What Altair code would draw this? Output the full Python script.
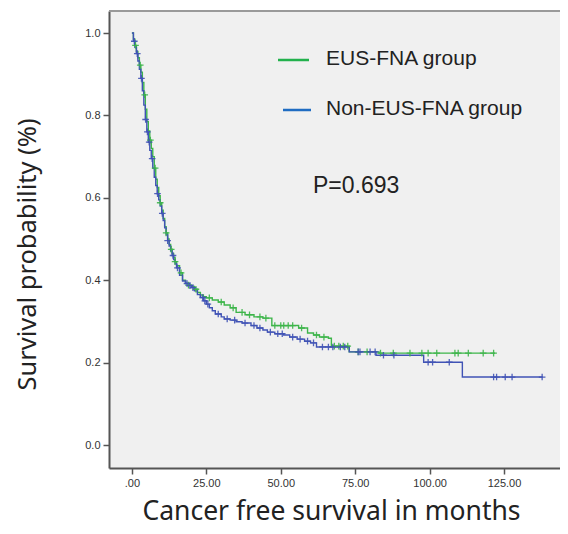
import altair as alt
import pandas as pd
import numpy as np

# ---- Kaplan-Meier step data ----
groups = ["EUS-FNA group", "Non-EUS-FNA group"]

eus_t = [0, 0.5, 1, 1.5, 2, 2.5, 3, 3.5, 4, 4.5,
         5, 5.5, 6, 6.5, 7, 7.5, 8, 8.5, 9, 9.5,
         10, 10.5, 11, 11.5, 12, 12.5, 13, 13.5, 14, 14.5,
         15, 16, 17, 18, 19, 20, 21, 22, 23, 24,
         25, 27, 29, 31, 33, 35, 38, 41, 44, 47,
         56, 59, 61, 63, 66, 67, 73, 83, 122]
eus_s = [1.0, 0.985, 0.97, 0.955, 0.94, 0.922, 0.905, 0.88, 0.85, 0.815,
         0.785, 0.762, 0.74, 0.72, 0.70, 0.672, 0.645, 0.625, 0.605, 0.588,
         0.57, 0.55, 0.53, 0.515, 0.50, 0.487, 0.475, 0.465, 0.455, 0.445,
         0.435, 0.418, 0.40, 0.393, 0.388, 0.385, 0.378, 0.37, 0.364, 0.36,
         0.357, 0.352, 0.347, 0.340, 0.333, 0.322, 0.316, 0.311, 0.308, 0.290,
         0.284, 0.272, 0.267, 0.262, 0.259, 0.240, 0.226, 0.223, 0.223]

non_t = [0, 0.5, 1, 1.5, 2, 2.5, 3, 3.5, 4, 4.5,
         5, 5.5, 6, 6.5, 7, 7.5, 8, 8.5, 9, 9.5,
         10, 10.5, 11, 11.5, 12, 12.5, 13, 13.5, 14, 14.5,
         15, 16, 17, 18, 19, 20, 21, 22, 23, 24,
         25, 26, 27, 28, 30, 31, 33, 35, 37, 40,
         42, 44, 45.5, 48, 51, 53, 55.5, 58, 60, 62,
         73, 82, 98, 111, 138]
non_s = [1.0, 0.98, 0.965, 0.95, 0.932, 0.912, 0.89, 0.86, 0.825, 0.79,
         0.76, 0.735, 0.715, 0.695, 0.672, 0.65, 0.63, 0.61, 0.595, 0.58,
         0.562, 0.545, 0.527, 0.51, 0.496, 0.483, 0.471, 0.46, 0.45, 0.44,
         0.43, 0.412, 0.398, 0.392, 0.387, 0.382, 0.374, 0.365, 0.358, 0.35,
         0.342, 0.333, 0.326, 0.318, 0.311, 0.306, 0.303, 0.299, 0.296, 0.290,
         0.284, 0.279, 0.274, 0.270, 0.267, 0.262, 0.257, 0.252, 0.248, 0.238,
         0.226, 0.218, 0.201, 0.165, 0.165]

eus_censor = [1.2, 2.8, 4.3, 6.2, 7.8, 9.5, 11.5, 13.2, 14.5, 16.5,
              19, 21.5, 26, 30, 34, 37, 39.5, 43, 45, 48,
              50, 51, 52.5, 54, 57, 62, 64.5, 68, 69.5, 71,
              72.5, 76, 79, 83.5, 87.8, 93.4, 97.4, 99.5, 102.4, 108.5,
              109.6, 113, 118, 121.5]
non_censor = [0.8, 1.8, 3.2, 4.6, 5.2, 5.8, 6.8, 8.6, 10.2, 12,
              13.8, 15.3, 18.5, 19.5, 20.5, 23.8, 24.5, 25.5, 29, 32,
              34.5, 38, 41, 43, 46.5, 49, 50.5, 54, 56.5, 59,
              61, 64, 66, 67.5, 70, 71.5, 76, 76.6, 80, 81.7,
              84.5, 88, 99.5, 101, 106.6, 121.5, 122.5, 125.4, 127.7, 137.8]

x_ticks = [0, 25, 50, 75, 100, 125]
y_ticks = [0.0, 0.2, 0.4, 0.6, 0.8, 1.0]
p_label = ["P=0.693"]

line_colors = ["#3db54a", "#4053b5"]
legend_colors = ["#22b14c", "#1f6cc2"]


def curve(times, surv, g):
    return pd.DataFrame({"t": times, "s": surv, "group": g})


def censor(ct, times, surv, g):
    times = np.asarray(times)
    surv = np.asarray(surv)
    idx = np.searchsorted(times, ct, side="right") - 1
    return pd.DataFrame({"t": ct, "s": surv[idx], "group": g})


curves = pd.concat([curve(eus_t, eus_s, groups[0]), curve(non_t, non_s, groups[1])])
cens = pd.concat([censor(eus_censor, eus_t, eus_s, groups[0]),
                  censor(non_censor, non_t, non_s, groups[1])])

W, H = 451, 457
xs = alt.Scale(domain=[-7.7, 143.8], nice=False, zero=False)
ys = alt.Scale(domain=[-0.0558, 1.0534], nice=False, zero=False)
cs = alt.Scale(domain=groups, range=line_colors)

xaxis = alt.Axis(
    values=x_ticks, grid=False,
    labelExpr="datum.value == 0 ? '.00' : format(datum.value, '.2f')",
    labelFont="Liberation Sans", labelFontSize=11, labelColor="#333",
    labelPadding=3, tickSize=6, tickColor="#555", tickWidth=1.5,
    domainColor="#555", domainWidth=2,
    title="Cancer free survival in months", titleFont="Noto Sans",
    titleFontSize=26.5, titleFontWeight="normal", titleColor="#222",
    titleBaseline="alphabetic", titleY=51, titleX=222,
)
yaxis = alt.Axis(
    values=y_ticks, grid=False, format=".1f",
    labelFont="Liberation Sans", labelFontSize=11, labelColor="#333",
    labelPadding=3, tickSize=6, tickColor="#555", tickWidth=1.5,
    domainColor="#555", domainWidth=2,
    title="Survival probability (%)", titleFont="Noto Sans",
    titleFontSize=25.5, titleFontWeight="normal", titleColor="#222",
    titleAngle=-90, titleBaseline="middle", titleAlign="center",
    titleX=-82, titleY=243,
)

lines = alt.Chart(curves).mark_line(interpolate="step-after", strokeWidth=1.4).encode(
    x=alt.X("t:Q", scale=xs, axis=xaxis),
    y=alt.Y("s:Q", scale=ys, axis=yaxis),
    color=alt.Color("group:N", scale=cs, legend=None),
)

marks = alt.Chart(cens).mark_point(
    shape="M-1,0H1M0,-1V1", filled=False, size=44, strokeWidth=1.3, opacity=0.9
).encode(
    x=alt.X("t:Q", scale=xs),
    y=alt.Y("s:Q", scale=ys),
    color=alt.Color("group:N", scale=cs, legend=None),
)

top_rule = alt.Chart(pd.DataFrame({"a": [0]})).mark_rule(color="#9a9a9a", strokeWidth=2).encode(
    x=alt.value(0), x2=alt.value(W), y=alt.value(0)
)

leg_df = pd.DataFrame({"label": groups})
leg1_line = alt.Chart(leg_df.iloc[[0]]).mark_rule(color=legend_colors[0], strokeWidth=2.5).encode(
    x=alt.value(169), x2=alt.value(200), y=alt.value(49)
)
leg2_line = alt.Chart(leg_df.iloc[[1]]).mark_rule(color=legend_colors[1], strokeWidth=2.5).encode(
    x=alt.value(174), x2=alt.value(202), y=alt.value(99)
)
leg1_text = alt.Chart(leg_df.iloc[[0]]).mark_text(
    align="left", baseline="alphabetic", font="Liberation Sans", fontSize=21, color="#222"
).encode(text="label:N", x=alt.value(217), y=alt.value(54))
leg2_text = alt.Chart(leg_df.iloc[[1]]).mark_text(
    align="left", baseline="alphabetic", font="Liberation Sans", fontSize=21, color="#222"
).encode(text="label:N", x=alt.value(217), y=alt.value(104))
p_text = alt.Chart(pd.DataFrame({"label": p_label})).mark_text(
    align="left", baseline="alphabetic", font="Liberation Sans", fontSize=23, color="#222"
).encode(text="label:N", x=alt.value(204), y=alt.value(182))

chart = alt.layer(
    top_rule, lines, marks, leg1_line, leg2_line, leg1_text, leg2_text, p_text
).properties(
    width=W, height=H,
    autosize=alt.AutoSizeParams(type="none"),
    padding={"left": 101, "top": 3, "right": 0, "bottom": 58},
    background="white",
).configure_view(fill="#f0f0f0", stroke=None)

chart.save("out.html", embed_options={"renderer": "svg", "actions": False})
